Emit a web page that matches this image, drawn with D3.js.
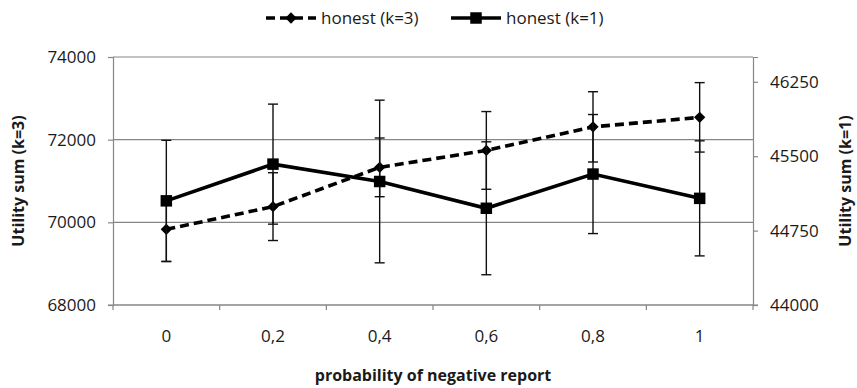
<!DOCTYPE html>
<html>
<head>
<meta charset="utf-8">
<script src="https://cdn.jsdelivr.net/npm/d3@7"></script>
<style>
  body { margin: 0; background: #fff; }
  svg { display: block; font-family: "Open Sans", sans-serif; }
</style>
</head>
<body>
<svg id="chart" width="857" height="388"></svg>
<script>
// data
categories = ["0", "0,2", "0,4", "0,6", "0,8", "1"]
k3 = [69830, 70380, 71330, 71740, 72310, 72540]
k3Err = [780, 820, 710, 940, 850, 840]
k1 = [45050, 45420, 45245, 44975, 45320, 45075]
k1Err = [610, 605, 820, 670, 600, 580]
leftTicks = [68000, 70000, 72000, 74000]
rightTicks = [44000, 44750, 45500, 46250]

chart = () => {
    const m = { left: 113, right: 753, top: 57, bottom: 305 }
    const svg = d3.select("#chart")
    const grey = "#868686"

    x = d3.scaleBand().domain(categories).range([m.left, m.right]).padding(0)
    yL = d3.scaleLinear().domain([68000, 74000]).range([m.bottom, m.top])
    yR = d3.scaleLinear().domain([44000, 46500]).range([m.bottom, m.top])

    // gridlines
    svg.append("g")
        .selectAll("line")
        .data(leftTicks)
        .join("line")
        .attr("x1", m.left).attr("x2", m.right)
        .attr("y1", d => yL(d)).attr("y2", d => yL(d))
        .attr("stroke", grey).attr("stroke-width", 1.2)

    // left axis
    const gl = svg.append("g")
        .attr("transform", `translate(${m.left},0)`)
        .call(d3.axisLeft(yL).tickValues(leftTicks).tickSize(5).tickPadding(12).tickFormat(d3.format("d")))
    // right axis
    const gr = svg.append("g")
        .attr("transform", `translate(${m.right},0)`)
        .call(d3.axisRight(yR).tickValues(rightTicks).tickSize(5).tickPadding(12).tickFormat(d3.format("d")))
    // bottom axis labels at band centers
    const gb = svg.append("g")
        .attr("transform", `translate(0,${m.bottom})`)
        .call(d3.axisBottom(x).tickSize(0).tickPadding(25))
    gb.select(".domain").remove()

    // bottom axis line and boundary ticks
    const bounds = categories.map(c => x(c)).concat([x.range()[1]])
    svg.append("line")
        .attr("x1", m.left - 5).attr("x2", m.right + 5)
        .attr("y1", m.bottom).attr("y2", m.bottom)
        .attr("stroke", grey).attr("stroke-width", 1.2)
    svg.append("g")
        .selectAll("line")
        .data(bounds)
        .join("line")
        .attr("x1", d => d).attr("x2", d => d)
        .attr("y1", m.bottom).attr("y2", m.bottom + 5)
        .attr("stroke", grey).attr("stroke-width", 1.2)

    ;[gl, gr].forEach(g => {
        g.select(".domain").attr("stroke", grey).attr("stroke-width", 1.2)
        g.selectAll(".tick line").attr("stroke", grey).attr("stroke-width", 1.2)
    })
    ;[gl, gr, gb].forEach(g => {
        g.selectAll("text").attr("font-size", 17).attr("fill", "#1a1a1a").attr("font-family", "Open Sans")
    })

    const series = [
        { name: "honest (k=3)", values: k3, err: k3Err, y: yL, dash: "9,5", shape: "diamond" },
        { name: "honest (k=1)", values: k1, err: k1Err, y: yR, dash: null, shape: "square" },
    ]

    const marker = (g, shape) => {
        if (shape === "diamond") {
            g.append("path")
                .attr("d", d3.symbol(d3.symbolSquare, 64)())
                .attr("transform", "rotate(45)")
                .attr("fill", "#000")
        } else {
            g.append("path")
                .attr("d", d3.symbol(d3.symbolSquare, 132)())
                .attr("fill", "#000")
        }
    }

    series.forEach(s => {
        const pts = categories.map((c, i) => ({ c, v: s.values[i], e: s.err[i] }))
        const cx = d => x(d.c) + x.bandwidth() / 2

        // error bars
        const eb = svg.append("g").attr("stroke", "#111").attr("stroke-width", 1.4)
        eb.selectAll("line.v")
            .data(pts)
            .join("line")
            .attr("class", "v")
            .attr("x1", cx).attr("x2", cx)
            .attr("y1", d => s.y(d.v - d.e)).attr("y2", d => s.y(d.v + d.e))
        ;[-1, 1].forEach(sign => {
            eb.selectAll(null)
                .data(pts)
                .join("line")
                .attr("x1", d => cx(d) - 5).attr("x2", d => cx(d) + 5)
                .attr("y1", d => s.y(d.v + sign * d.e)).attr("y2", d => s.y(d.v + sign * d.e))
        })

        // line
        svg.append("path")
            .datum(pts)
            .attr("fill", "none")
            .attr("stroke", "#000")
            .attr("stroke-width", 3.6)
            .attr("stroke-dasharray", s.dash)
            .attr("d", d3.line().x(cx).y(d => s.y(d.v)))

        // markers
        svg.append("g")
            .selectAll("g")
            .data(pts)
            .join("g")
            .attr("transform", d => `translate(${cx(d)},${s.y(d.v)})`)
            .each(function () { marker(d3.select(this), s.shape) })
    })

    // legend
    const lx = [266, 451]
    series.forEach((s, i) => {
        const g = svg.append("g").attr("transform", `translate(${lx[i]},18)`)
        g.append("line")
            .attr("x1", 0).attr("x2", 50)
            .attr("stroke", "#000").attr("stroke-width", 3.6)
            .attr("stroke-dasharray", s.dash)
        marker(g.append("g").attr("transform", "translate(25,0)"), s.shape)
        g.append("text")
            .attr("x", 55).attr("dy", "0.35em")
            .attr("font-size", 17).attr("fill", "#1a1a1a")
            .text(s.name)
    })

    // axis titles
    svg.append("text")
        .attr("transform", `translate(24,${(m.top + m.bottom) / 2}) rotate(-90)`)
        .attr("text-anchor", "middle")
        .attr("font-size", 16).attr("font-weight", "bold").attr("fill", "#1a1a1a")
        .text("Utility sum (k=3)")
    svg.append("text")
        .attr("transform", `translate(851,${(m.top + m.bottom) / 2}) rotate(-90)`)
        .attr("text-anchor", "middle")
        .attr("font-size", 16).attr("font-weight", "bold").attr("fill", "#1a1a1a")
        .text("Utility sum (k=1)")
    svg.append("text")
        .attr("x", 433).attr("y", 381)
        .attr("text-anchor", "middle")
        .attr("font-size", 16).attr("font-weight", "bold").attr("fill", "#1a1a1a")
        .text("probability of negative report")
}

chart()
</script>
</body>
</html>
